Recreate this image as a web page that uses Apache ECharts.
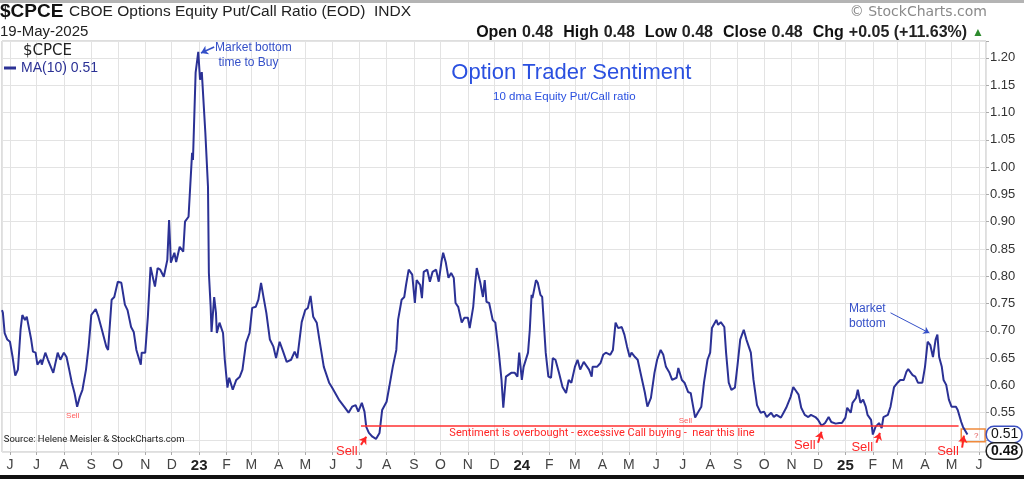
<!DOCTYPE html>
<html lang="en">
<head>
    <meta charset="UTF-8">
    <title>$CPCE - CBOE Options Equity Put/Call Ratio MA(10)</title>
    <script src="https://cdn.jsdelivr.net/npm/echarts@6/dist/echarts.min.js"></script>
    <style>
        html, body {
            margin: 0;
            padding: 0;
            background-color: #fff;
        }

        #cpceChart {
            width: 1024px;
            height: 479px;
        }
    </style>
</head>
<body>
<div id="cpceChart"></div>

<script>
    // 10 day moving average of $CPCE (date, value)
    const ma2022 = [
        ['2022-05-23', 0.738], ['2022-05-24', 0.733], ['2022-05-26', 0.696], ['2022-05-29', 0.684],
        ['2022-06-01', 0.680], ['2022-06-04', 0.652], ['2022-06-07', 0.618], ['2022-06-10', 0.629],
        ['2022-06-13', 0.702], ['2022-06-15', 0.729], ['2022-06-18', 0.720], ['2022-06-20', 0.726],
        ['2022-06-25', 0.684], ['2022-06-27', 0.662], ['2022-06-30', 0.660], ['2022-07-02', 0.638],
        ['2022-07-06', 0.647], ['2022-07-07', 0.638], ['2022-07-11', 0.660], ['2022-07-14', 0.647],
        ['2022-07-20', 0.623], ['2022-07-25', 0.660], ['2022-07-28', 0.647], ['2022-08-01', 0.660],
        ['2022-08-04', 0.652], ['2022-08-07', 0.629], ['2022-08-10', 0.605], ['2022-08-13', 0.586],
        ['2022-08-16', 0.561], ['2022-08-19', 0.579], ['2022-08-22', 0.592], ['2022-08-26', 0.629],
        ['2022-08-29', 0.671], ['2022-09-01', 0.729], ['2022-09-06', 0.740], ['2022-09-09', 0.726],
        ['2022-09-13', 0.702], ['2022-09-18', 0.671], ['2022-09-20', 0.665], ['2022-09-24', 0.757],
        ['2022-09-27', 0.762], ['2022-10-01', 0.790], ['2022-10-05', 0.788], ['2022-10-09', 0.748],
        ['2022-10-12', 0.738], ['2022-10-16', 0.707], ['2022-10-19', 0.698], ['2022-10-22', 0.665],
        ['2022-10-27', 0.638], ['2022-10-28', 0.660], ['2022-11-01', 0.660], ['2022-11-04', 0.726],
        ['2022-11-07', 0.817], ['2022-11-12', 0.781], ['2022-11-15', 0.815], ['2022-11-18', 0.812],
        ['2022-11-22', 0.799], ['2022-11-26', 0.830], ['2022-11-28', 0.903], ['2022-11-30', 0.825],
        ['2022-12-04', 0.843], ['2022-12-06', 0.826], ['2022-12-10', 0.854], ['2022-12-14', 0.845],
        ['2022-12-16', 0.900], ['2022-12-20', 0.909], ['2022-12-24', 1.026], ['2022-12-25', 1.013],
        ['2022-12-28', 1.173], ['2022-12-31', 1.211]
    ];
    const ma2023 = [
        ['2023-01-02', 1.160], ['2023-01-04', 1.174], ['2023-01-08', 1.063], ['2023-01-11', 0.964],
        ['2023-01-12', 0.806], ['2023-01-14', 0.744], ['2023-01-15', 0.698], ['2023-01-18', 0.762],
        ['2023-01-20', 0.733], ['2023-01-21', 0.696], ['2023-01-24', 0.715], ['2023-01-28', 0.696],
        ['2023-01-30', 0.647], ['2023-02-02', 0.596], ['2023-02-04', 0.614], ['2023-02-08', 0.592],
        ['2023-02-12', 0.610], ['2023-02-16', 0.616], ['2023-02-19', 0.629], ['2023-02-23', 0.678],
        ['2023-02-27', 0.696], ['2023-03-02', 0.742], ['2023-03-06', 0.744], ['2023-03-09', 0.757],
        ['2023-03-12', 0.788], ['2023-03-15', 0.760], ['2023-03-18', 0.733], ['2023-03-22', 0.684],
        ['2023-03-26', 0.671], ['2023-03-29', 0.650], ['2023-04-02', 0.680], ['2023-04-06', 0.662],
        ['2023-04-10', 0.643], ['2023-04-15', 0.647], ['2023-04-19', 0.662], ['2023-04-22', 0.650],
        ['2023-04-27', 0.716], ['2023-05-01', 0.738], ['2023-05-04', 0.742], ['2023-05-07', 0.764],
        ['2023-05-10', 0.726], ['2023-05-14', 0.715], ['2023-05-17', 0.684], ['2023-05-22', 0.634],
        ['2023-05-28', 0.605], ['2023-05-31', 0.597], ['2023-06-08', 0.574], ['2023-06-14', 0.561],
        ['2023-06-19', 0.550], ['2023-06-23', 0.561], ['2023-06-27', 0.564], ['2023-06-30', 0.552],
        ['2023-07-04', 0.568], ['2023-07-07', 0.552], ['2023-07-09', 0.524], ['2023-07-12', 0.513],
        ['2023-07-16', 0.506], ['2023-07-20', 0.502], ['2023-07-24', 0.513], ['2023-07-27', 0.555],
        ['2023-08-01', 0.570], ['2023-08-04', 0.597], ['2023-08-08', 0.634], ['2023-08-12', 0.665],
        ['2023-08-14', 0.720], ['2023-08-18', 0.757], ['2023-08-21', 0.762], ['2023-08-23', 0.784],
        ['2023-08-26', 0.812], ['2023-08-30', 0.803], ['2023-09-02', 0.751], ['2023-09-04', 0.793],
        ['2023-09-08', 0.784], ['2023-09-10', 0.760], ['2023-09-12', 0.808], ['2023-09-16', 0.812],
        ['2023-09-19', 0.790], ['2023-09-22', 0.808], ['2023-09-26', 0.812], ['2023-09-29', 0.790],
        ['2023-10-02', 0.826], ['2023-10-04', 0.843], ['2023-10-07', 0.825], ['2023-10-10', 0.797],
        ['2023-10-13', 0.806], ['2023-10-16', 0.797], ['2023-10-18', 0.751], ['2023-10-21', 0.744],
        ['2023-10-25', 0.715], ['2023-10-28', 0.724], ['2023-11-01', 0.724], ['2023-11-03', 0.705],
        ['2023-11-07', 0.744], ['2023-11-09', 0.784], ['2023-11-11', 0.815], ['2023-11-15', 0.788],
        ['2023-11-18', 0.762], ['2023-11-20', 0.793], ['2023-11-22', 0.753], ['2023-11-25', 0.751],
        ['2023-11-29', 0.720], ['2023-12-02', 0.715], ['2023-12-06', 0.660], ['2023-12-09', 0.610],
        ['2023-12-11', 0.559], ['2023-12-14', 0.616], ['2023-12-20', 0.623], ['2023-12-24', 0.623],
        ['2023-12-27', 0.616], ['2023-12-29', 0.660]
    ];
    const ma2024 = [
        ['2024-01-01', 0.610], ['2024-01-03', 0.634], ['2024-01-08', 0.660], ['2024-01-10', 0.702],
        ['2024-01-12', 0.766], ['2024-01-13', 0.760], ['2024-01-17', 0.793], ['2024-01-19', 0.788],
        ['2024-01-22', 0.766], ['2024-01-24', 0.762], ['2024-01-28', 0.660], ['2024-01-31', 0.616],
        ['2024-02-03', 0.614], ['2024-02-05', 0.650], ['2024-02-08', 0.647], ['2024-02-12', 0.623],
        ['2024-02-16', 0.597], ['2024-02-20', 0.586], ['2024-02-23', 0.610], ['2024-02-26', 0.605],
        ['2024-03-01', 0.634], ['2024-03-04', 0.647], ['2024-03-07', 0.629], ['2024-03-11', 0.643],
        ['2024-03-13', 0.643], ['2024-03-17', 0.629], ['2024-03-20', 0.616], ['2024-03-21', 0.634],
        ['2024-03-26', 0.634], ['2024-03-30', 0.641], ['2024-04-02', 0.656], ['2024-04-05', 0.660],
        ['2024-04-10', 0.656], ['2024-04-13', 0.665], ['2024-04-16', 0.715], ['2024-04-19', 0.705],
        ['2024-04-23', 0.707], ['2024-04-26', 0.693], ['2024-04-29', 0.671], ['2024-05-02', 0.652],
        ['2024-05-04', 0.660], ['2024-05-08', 0.652], ['2024-05-11', 0.647], ['2024-05-16', 0.610],
        ['2024-05-19', 0.588], ['2024-05-22', 0.561], ['2024-05-26', 0.577], ['2024-05-30', 0.623],
        ['2024-06-02', 0.647], ['2024-06-06', 0.665], ['2024-06-09', 0.656], ['2024-06-12', 0.634],
        ['2024-06-16', 0.623], ['2024-06-19', 0.610], ['2024-06-24', 0.614], ['2024-06-26', 0.632],
        ['2024-06-30', 0.610], ['2024-07-03', 0.605], ['2024-07-07', 0.588], ['2024-07-10', 0.586],
        ['2024-07-12', 0.568], ['2024-07-15', 0.541], ['2024-07-18', 0.550], ['2024-07-22', 0.561],
        ['2024-07-25', 0.605], ['2024-07-29', 0.647], ['2024-08-01', 0.660], ['2024-08-03', 0.705],
        ['2024-08-08', 0.720], ['2024-08-10', 0.711], ['2024-08-13', 0.716], ['2024-08-17', 0.707],
        ['2024-08-19', 0.660], ['2024-08-22', 0.605], ['2024-08-25', 0.592], ['2024-08-29', 0.596],
        ['2024-09-01', 0.638], ['2024-09-04', 0.684], ['2024-09-08', 0.702], ['2024-09-11', 0.684],
        ['2024-09-16', 0.660], ['2024-09-19', 0.610], ['2024-09-23', 0.564], ['2024-09-27', 0.550],
        ['2024-10-01', 0.552], ['2024-10-04', 0.542], ['2024-10-09', 0.550], ['2024-10-12', 0.542],
        ['2024-10-15', 0.546], ['2024-10-20', 0.541], ['2024-10-23', 0.550], ['2024-10-26', 0.559],
        ['2024-10-31', 0.579], ['2024-11-03', 0.597], ['2024-11-05', 0.596], ['2024-11-09', 0.583],
        ['2024-11-12', 0.559], ['2024-11-16', 0.546], ['2024-11-20', 0.542], ['2024-11-23', 0.546],
        ['2024-11-28', 0.542], ['2024-12-01', 0.537], ['2024-12-05', 0.526], ['2024-12-09', 0.531],
        ['2024-12-13', 0.542], ['2024-12-16', 0.533], ['2024-12-21', 0.530], ['2024-12-25', 0.531],
        ['2024-12-28', 0.531]
    ];
    const ma2025 = [
        ['2025-01-01', 0.541], ['2025-01-03', 0.559], ['2025-01-07', 0.550], ['2025-01-09', 0.568],
        ['2025-01-13', 0.577], ['2025-01-15', 0.592], ['2025-01-18', 0.568], ['2025-01-21', 0.574],
        ['2025-01-24', 0.561], ['2025-01-26', 0.546], ['2025-01-30', 0.537], ['2025-02-01', 0.510],
        ['2025-02-04', 0.524], ['2025-02-08', 0.531], ['2025-02-11', 0.522], ['2025-02-13', 0.542],
        ['2025-02-18', 0.546], ['2025-02-21', 0.561], ['2025-02-25', 0.597], ['2025-03-01', 0.605],
        ['2025-03-04', 0.610], ['2025-03-08', 0.610], ['2025-03-11', 0.625], ['2025-03-13', 0.630],
        ['2025-03-18', 0.619], ['2025-03-21', 0.616], ['2025-03-24', 0.605], ['2025-03-29', 0.605],
        ['2025-04-01', 0.634], ['2025-04-04', 0.680], ['2025-04-07', 0.674], ['2025-04-10', 0.652],
        ['2025-04-13', 0.684], ['2025-04-15', 0.693], ['2025-04-17', 0.652], ['2025-04-20', 0.634],
        ['2025-04-22', 0.610], ['2025-04-25', 0.601], ['2025-04-28', 0.574], ['2025-05-01', 0.561],
        ['2025-05-06', 0.561], ['2025-05-08', 0.555], ['2025-05-12', 0.533], ['2025-05-14', 0.524],
        ['2025-05-19', 0.510]
    ];

    const monthLetters = ['J', 'F', 'M', 'A', 'M', 'J', 'J', 'A', 'S', 'O', 'N', 'D'];
    const lastMA = 0.51;
    const lastClose = 0.48;
    const quote = { open: '0.48', high: '0.48', low: '0.48', close: '0.48', chg: '+0.05 (+11.63%)' };
    const sellLevel = 0.526;

    const ts = s => new Date(s + 'T00:00:00').getTime();
    const lineColor = '#2b3195';
    const noteBlue = '#3550c8';
    const sellRed = '#ff2626';

    // text note pinned to a date/value
    function note(date, value, text, label) {
        return {
            coord: [ts(date), value],
            symbolSize: 0,
            label: Object.assign({ show: true, formatter: text }, label)
        };
    }

    // straight or curved arrow between two date/value points
    function arrow(from, to, color, width, size, curveness) {
        return [
            { coord: [ts(from[0]), from[1]], symbol: 'none' },
            {
                coord: [ts(to[0]), to[1]],
                symbol: 'arrow',
                symbolSize: size,
                lineStyle: { color: color, width: width, type: 'solid', curveness: curveness || 0 }
            }
        ];
    }

    // price tag drawn on the right axis
    function axisTag(value, border, bold) {
        return {
            yAxis: value,
            lineStyle: { color: 'rgba(0,0,0,0)', width: 0 },
            label: {
                show: true, position: 'end', distance: 1,
                formatter: value.toFixed(2),
                fontSize: 14, fontWeight: bold ? 'bold' : 'normal', color: '#111', lineHeight: 14,
                backgroundColor: '#fff', borderColor: border, borderWidth: 1.5,
                borderRadius: 7, padding: [1, 3, 0, 4]
            }
        };
    }

    const sellLabel = { position: 'inside', color: sellRed, fontSize: 13 };
    const smallSell = { position: 'inside', color: '#ff5a5a', fontSize: 8 };

    document.addEventListener('DOMContentLoaded', function () {
        const chartDom = document.getElementById('cpceChart');
        const myChart = echarts.init(chartDom);
        const seriesName = 'MA(10) ' + lastMA.toFixed(2);

        const option = {
            animation: false,
            backgroundColor: '#fff',
            textStyle: { fontFamily: 'Liberation Sans, Arial, sans-serif' },
            title: [
                {
                    text: '$CPCE', left: 0, top: 2, padding: 0,
                    textStyle: { fontSize: 19, fontWeight: 'bold', color: '#111' }
                },
                {
                    text: 'CBOE Options Equity Put/Call Ratio (EOD)  INDX', left: 69, top: 4, padding: 0,
                    textStyle: { fontSize: 15.5, fontWeight: 'normal', color: '#222' }
                },
                {
                    text: '19-May-2025', left: 0, top: 24, padding: 0,
                    textStyle: { fontSize: 15, fontWeight: 'normal', color: '#222' }
                },
                {
                    text: '{b|Open} {n|' + quote.open + '}  {b|High} {n|' + quote.high + '}  {b|Low} {n|' +
                        quote.low + '}  {b|Close} {n|' + quote.close + '}  {b|Chg} {n|' + quote.chg + '} {g|▲}',
                    right: 40, top: 24, padding: 0,
                    textStyle: {
                        rich: {
                            b: { fontSize: 16, fontWeight: 'bold', color: '#111' },
                            n: { fontSize: 16, color: '#222' },
                            g: { fontSize: 12, color: '#2e8b2e' }
                        }
                    }
                },
                {
                    text: '© StockCharts.com', right: 37, top: 5, padding: 0,
                    textStyle: { fontSize: 14, fontWeight: 'normal', color: '#8a8a8a', fontFamily: 'DejaVu Sans' }
                },
                {
                    text: '$CPCE', left: 23, top: 44, padding: 0,
                    textStyle: { fontSize: 15, fontWeight: 'normal', color: '#222', fontFamily: 'DejaVu Sans' }
                }
            ],
            legend: {
                data: [seriesName],
                left: 4,
                top: 61,
                padding: 0,
                icon: 'rect',
                itemWidth: 12,
                itemHeight: 3,
                selectedMode: false,
                textStyle: { color: lineColor, fontSize: 14 }
            },
            graphic: [
                { type: 'rect', left: 0, top: 0, shape: { width: 1024, height: 3 }, style: { fill: '#b4b4b4' } },
                { type: 'rect', left: 0, top: 475, shape: { width: 1024, height: 4 }, style: { fill: '#111' } }
            ],
            grid: {
                left: 2,
                right: 38,
                top: 41,
                bottom: 27,
                show: true,
                borderColor: '#bdbdbd',
                borderWidth: 1
            },
            xAxis: {
                type: 'time',
                min: ts('2022-05-23'),
                max: ts('2025-06-09'),
                maxInterval: 31 * 86400000,
                axisLine: { show: false },
                axisTick: { show: true, length: 3, lineStyle: { color: '#aaa' } },
                splitLine: { show: true, lineStyle: { color: '#e3e3e3', width: 1 } },
                axisLabel: {
                    margin: 6,
                    color: '#444',
                    fontSize: 14,
                    formatter: function (value) {
                        const d = new Date(value);
                        if (d.getDate() !== 1) {
                            return '';
                        }
                        const m = d.getMonth();
                        return m === 0 ? '{y|' + String(d.getFullYear()).slice(2) + '}' : monthLetters[m];
                    },
                    rich: {
                        y: { fontSize: 15, fontWeight: 'bold', color: '#222' }
                    }
                }
            },
            yAxis: {
                type: 'value',
                position: 'right',
                min: 0.478,
                max: 1.231,
                splitNumber: 15,
                axisLine: { show: false },
                axisTick: { show: true, length: 3, lineStyle: { color: '#aaa' } },
                splitLine: { show: true, lineStyle: { color: '#e3e3e3', width: 1 } },
                axisLabel: {
                    margin: 4,
                    color: '#333',
                    fontSize: 13,
                    formatter: function (v) {
                        const k = v / 0.05;
                        if (Math.abs(k - Math.round(k)) > 1e-6 || v < 0.52) {
                            return '';
                        }
                        return v.toFixed(2);
                    }
                }
            },
            series: [
                {
                    name: seriesName,
                    type: 'line',
                    symbol: 'none',
                    lineStyle: { color: lineColor, width: 2 },
                    itemStyle: { color: lineColor },
                    data: [].concat(ma2022, ma2023, ma2024, ma2025).map(p => [ts(p[0]), p[1]]),
                    markLine: {
                        silent: true,
                        symbol: ['none', 'none'],
                        label: { show: false },
                        data: [
                            [
                                { coord: [ts('2023-07-03'), sellLevel] },
                                { coord: [ts('2025-05-09'), sellLevel], lineStyle: { color: '#ff3030', width: 1.5, type: 'solid' } }
                            ],
                            arrow(['2023-01-18', 1.220], ['2023-01-03', 1.209], noteBlue, 1.5, 7),
                            arrow(['2025-02-21', 0.733], ['2025-04-06', 0.696], noteBlue, 1, 6, 0.35),
                            arrow(['2023-07-03', 0.491], ['2023-07-09', 0.506], sellRed, 2, 7),
                            arrow(['2024-12-01', 0.495], ['2024-12-05', 0.515], sellRed, 2, 7),
                            arrow(['2025-02-05', 0.495], ['2025-02-09', 0.513], sellRed, 2, 7),
                            arrow(['2025-05-13', 0.486], ['2025-05-15', 0.508], sellRed, 2, 7),
                            axisTag(lastMA, '#3a4fc0', false),
                            axisTag(lastClose, '#222', true)
                        ]
                    },
                    markArea: {
                        silent: true,
                        itemStyle: { color: 'rgba(0,0,0,0)', borderColor: '#f08a3c', borderWidth: 1.5 },
                        label: { show: true, position: 'inside', offset: [3, 0], formatter: '?', fontSize: 8, color: '#e05050' },
                        data: [[
                            { coord: [ts('2025-05-12'), 0.520] },
                            { coord: [ts('2025-06-08'), 0.497] }
                        ]]
                    },
                    markPoint: {
                        silent: true,
                        symbol: 'circle',
                        symbolSize: 0,
                        data: [
                            note('2023-01-19', 1.205, 'Market bottom\n time to Buy',
                                { position: 'right', distance: 0, color: noteBlue, fontSize: 12, lineHeight: 15 }),
                            note('2024-02-26', 1.173, 'Option Trader Sentiment',
                                { position: 'inside', color: '#2a50e0', fontSize: 22 }),
                            note('2024-02-18', 1.129, '10 dma Equity Put/Call ratio',
                                { position: 'inside', color: '#2a50e0', fontSize: 11.5 }),
                            note('2025-01-05', 0.727, 'Market\nbottom',
                                { position: 'right', distance: 0, color: noteBlue, fontSize: 12, lineHeight: 15 }),
                            note('2022-08-11', 0.544, 'Sell', smallSell),
                            note('2024-07-04', 0.535, 'Sell', smallSell),
                            note('2023-06-17', 0.49, 'Sell', Object.assign({ offset: [0, 6] }, sellLabel)),
                            note('2024-11-16', 0.49, 'Sell', Object.assign({ offset: [0, 0] }, sellLabel)),
                            note('2025-01-20', 0.49, 'Sell', Object.assign({ offset: [0, 2] }, sellLabel)),
                            note('2025-04-27', 0.49, 'Sell', Object.assign({ offset: [0, 6] }, sellLabel)),
                            note('2023-10-11', 0.513, 'Sentiment is overbought - excessive Call buying -  near this line',
                                { position: 'right', distance: 0, color: sellRed, fontSize: 11, fontFamily: 'Roboto' }),
                            note('2022-05-25', 0.50, 'Source: Helene Meisler & StockCharts.com',
                                { position: 'right', distance: 0, color: '#222', fontSize: 9.5, fontFamily: 'Roboto' })
                        ]
                    }
                }
            ]
        };

        myChart.setOption(option);
        window.addEventListener('resize', myChart.resize);
    });
</script>
</body>
</html>
